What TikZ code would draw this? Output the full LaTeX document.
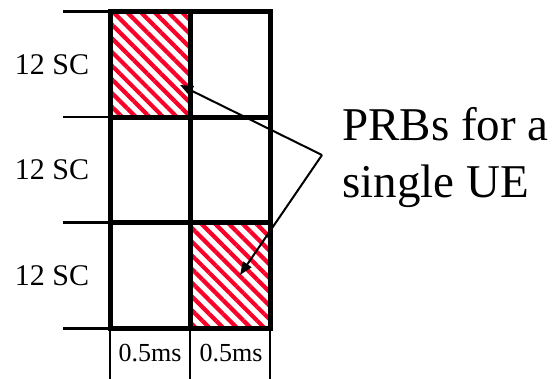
\documentclass[tikz,border=0pt]{standalone}
\usepackage{fontspec}
\setmainfont{Liberation Serif}
\usetikzlibrary{arrows.meta, positioning, patterns.meta}
\definecolor{hatch}{RGB}{250,0,40}
\tikzset{
  % one resource block of the grid
  cell/.style={rectangle, draw=black, line width=5pt, minimum width=80pt,
               minimum height=105.5pt, inner sep=0pt, outer sep=0pt},
  % resource block that is given to the UE
  prb/.style={cell, preaction={pattern={Lines[angle=-45, distance=9.7pt, line width=4.2pt]},
              pattern color=hatch}},
  tick/.style={line width=2.5pt, draw=black},
  sep/.style={line width=1.5pt, draw=black},
  sc/.style={font=\fontsize{30}{34}\selectfont, inner sep=0pt},
  ms/.style={font=\fontsize{26}{30}\selectfont, inner sep=0pt},
  ar/.style={-{Triangle[length=13pt, width=10pt]}, line width=2pt, draw=black}
}
\begin{document}
\begin{tikzpicture}[x=1pt,y=-1pt]
    \useasboundingbox (0,0) rectangle (556,379);
    % ---- grid: 3 rows of 12 SC, 2 slots of 0.5ms ----
    \node[prb]  (c11) at (150,64.5) {};
    \node[cell] (c12) [right=0pt of c11] {};
    \node[cell] (c21) [below=0pt of c11] {};
    \node[cell] (c22) [right=0pt of c21] {};
    \node[cell] (c31) [below=0pt of c21] {};
    \node[prb]  (c32) [right=0pt of c31] {};

    % ticks on the frequency axis
    \draw[tick] (c11.north west) -- ++(-47,0);
    \draw[tick] (c21.north west) -- ++(-47,0);
    \draw[tick] (c31.north west) -- ++(-47,0);
    \draw[tick] (c31.south west) -- ++(-47,0);
    \node[sc] (f1) at (52,64.5) {12 SC};
    \node[sc] (f2) at (52,170) {12 SC};
    \node[sc] (f3) at (52,275.5) {12 SC};

    % slots on the time axis
    \draw[sep] (c31.south west) -- ++(0,52);
    \draw[sep] (c31.south east) -- ++(0,52);
    \draw[sep] (c32.south east) -- ++(0,52);
    \node[ms] (t1) at (150,353) {0.5ms};
    \node[ms] (t2) at (231,353) {0.5ms};

    % label and arrows to the PRBs
    \node[anchor=north west, inner sep=0pt, align=left,
          font=\fontsize{47}{57}\selectfont] (ue) at (342,107) {PRBs for a\\single UE};
    \coordinate (apex) at (322,155);
    \coordinate (p1) at (180,85);
    \coordinate (p2) at (240,275);
    \draw[ar] (apex) -- (p1);
    \draw[ar] (apex) -- (p2);
  \end{tikzpicture}
\end{document}
